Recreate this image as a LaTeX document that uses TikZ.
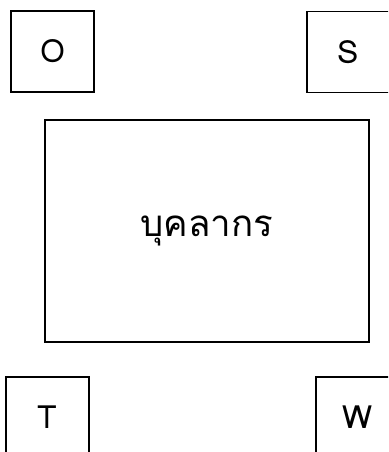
\documentclass[tikz,border=0pt]{standalone}
\usepackage{fontspec}
\setmainfont{Loma}[Script=Thai]
\usetikzlibrary{positioning}

\begin{document}
\begin{tikzpicture}[x=0.75pt, y=-0.75pt,
  letterbox/.style={draw, line width=1.3pt, minimum width=62.25pt, minimum height=60.75pt, inner sep=0pt, font=\fontsize{24}{28}\selectfont},
  mainbox/.style={draw, line width=1.3pt, minimum width=243pt, minimum height=166.5pt, inner sep=0pt, font=\fontsize{27.5}{32}\selectfont},
  ]
  \useasboundingbox (0,0) rectangle (388,452);
  \clip (0,0) rectangle (388,452);
  % Corner boxes
  \node[letterbox] (o) at (52.5, 51.5) {O};
  \node[letterbox] (s) at (348.5, 52) {S};
  \node[letterbox] (t) at (47.5, 417.5) {T};
  \node[letterbox] (w) at (357.5, 417.5) {W};
  % Centre box
  \node[mainbox] (staff) at (207, 231) {บุคลากร};
\end{tikzpicture}
\end{document}
